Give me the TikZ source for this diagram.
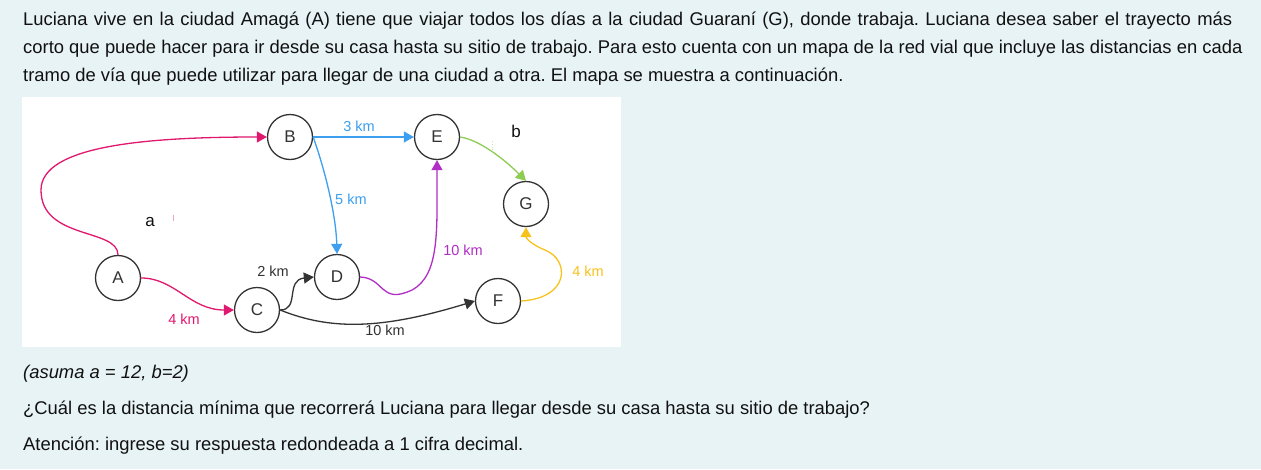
\documentclass[tikz,border=0pt]{standalone}
\usepackage{fontspec}
\setmainfont{Liberation Sans}
\usetikzlibrary{arrows.meta}
\definecolor{bgc}{HTML}{E8F3F6}
\definecolor{pinkc}{HTML}{E0186E}
\definecolor{bluec}{HTML}{3C9FF0}
\definecolor{greenc}{HTML}{8ECC52}
\definecolor{purplec}{HTML}{B02EC4}
\definecolor{yellowc}{HTML}{F8C21C}
\definecolor{darkc}{HTML}{333333}
\definecolor{txtc}{HTML}{111111}
\frenchspacing
\begin{document}
\begin{tikzpicture}[x=1pt,y=-1pt,
  city/.style={circle,draw=darkc,line width=1.3pt,fill=white,minimum size=45pt,inner sep=0pt,font=\fontsize{17}{17}\selectfont,text=darkc},
  road/.style={line width=1.3pt,-{Triangle[width=11pt,length=10pt]}},
  lbl/.style={font=\fontsize{14.5}{14.5}\selectfont,inner sep=0pt},
  para/.style={anchor=base west,inner sep=0pt,font=\fontsize{18.4}{18.4}\selectfont,text=txtc}]
\fill[bgc] (0,0) rectangle (1261,469);
\useasboundingbox (0,0) rectangle (1261,469);
\fill[white] (22,97) rectangle (621,347);
% text
\node[para] (t1) at (23,25) {\hbox to 1209pt{Luciana vive en la ciudad Amagá (A) tiene que viajar todos los días a la ciudad Guaraní (G), donde trabaja. Luciana desea saber el trayecto más}};
\node[para] (t2) at (23,53) {corto que puede hacer para ir desde su casa hasta su sitio de trabajo. Para esto cuenta con un mapa de la red vial que incluye las distancias en cada};
\node[para] (t3) at (23,81) {tramo de vía que puede utilizar para llegar de una ciudad a otra. El mapa se muestra a continuación.};
\node[para] (t4) at (23,378) {\itshape (asuma a = 12, b=2)};
\node[para] (t5) at (23,414) {¿Cuál es la distancia mínima que recorrerá Luciana para llegar desde su casa hasta su sitio de trabajo?};
\node[para] (t6) at (23,450) {Atención: ingrese su respuesta redondeada a 1 cifra decimal.};
% cities
\node[city] (A) at (118,278) {A};
\node[city] (B) at (290,137) {B};
\node[city] (C) at (257,310) {C};
\node[city] (D) at (337,277) {D};
\node[city] (E) at (437,137) {E};
\node[city] (F) at (498,301) {F};
\node[city] (G) at (526,204) {G};
% roads
\draw[road,pinkc] (A.north) .. controls (118,228) and (41,240) .. (41,190) .. controls (41,145) and (150,137) .. (B.west);
\draw[road,pinkc] (A.east) .. controls (175,278) and (190,310) .. (C.west);
\draw[road,bluec] (B.east) -- (E.west);
\draw[road,bluec] (B.east) .. controls (325,170) and (336,215) .. (D.north);
\draw[road,greenc] (E.east) .. controls (480,140) and (505,160) .. (G.north);
\draw[road,purplec] (D.east) .. controls (385,278) and (380,305) .. (412,290) .. controls (440,275) and (437,230) .. (E.south);
\draw[road,darkc] (C.east) .. controls (300,310) and (285,280) .. (D.west);
\draw[road,darkc] (C.east) .. controls (330,330) and (380,330) .. (F.west);
\draw[road,yellowc] (F.east) .. controls (570,298) and (570,260) .. (545,250) .. controls (528,243) and (526,237) .. (G.south);
% labels
\node[lbl,text=bluec] (l1) at (359,126) {3 km};
\node[lbl,text=bluec,anchor=west] (l2) at (335,199) {5 km};
\node[lbl,text=purplec] (l3) at (463,250) {10 km};
\node[lbl,text=yellowc] (l4) at (588,271) {4 km};
\node[lbl,text=pinkc] (l5) at (184,319) {4 km};
\node[lbl,text=darkc] (l6) at (273,271) {2 km};
\node[lbl,text=darkc] (l7) at (385,330) {10 km};
\node[font=\fontsize{17}{17}\selectfont,inner sep=0pt,text=txtc] (la) at (150,222) {a};
\node[font=\fontsize{17}{17}\selectfont,inner sep=0pt,text=txtc] (lb) at (516,131) {b};
\draw[pinkc!40,line width=0.8pt] (173,215) -- (173,221);
\draw[greenc!50,line width=0.8pt,dotted] (492,141) -- (492,150);
\end{tikzpicture}
\end{document}
